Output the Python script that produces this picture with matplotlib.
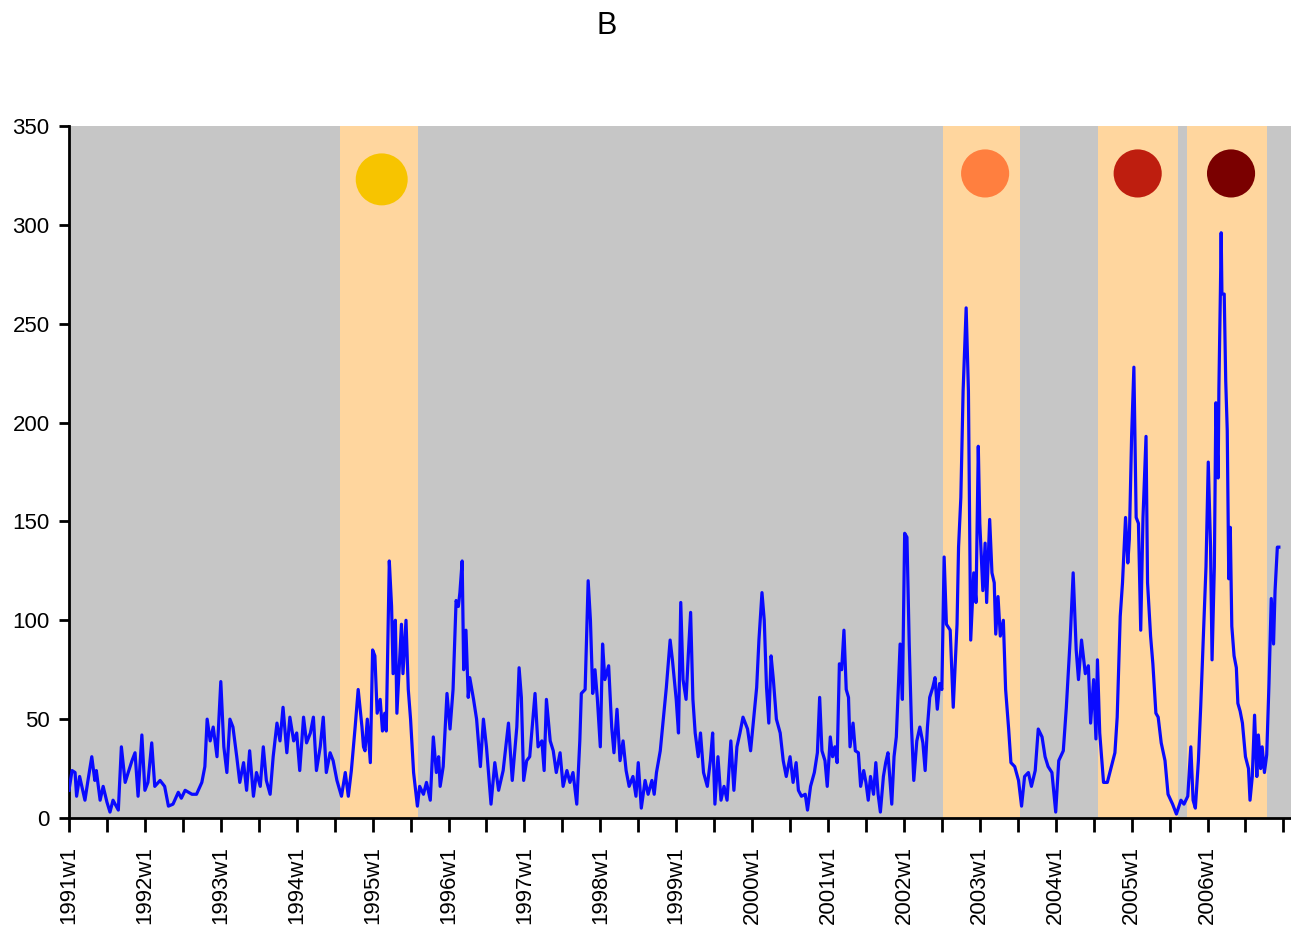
import matplotlib
matplotlib.use("Agg")
import matplotlib.pyplot as plt

plt.rcParams["font.family"] = ["Liberation Sans", "DejaVu Sans"]

# weekly counts as (decimal year, count)
t = [
    1991.00, 1991.04, 1991.08, 1991.10, 1991.14, 1991.21, 1991.25, 1991.30, 1991.34, 1991.36,
    1991.41, 1991.45, 1991.50, 1991.54, 1991.58, 1991.65, 1991.69, 1991.74, 1991.78, 1991.83,
    1991.87, 1991.91, 1991.96, 1992.00, 1992.04, 1992.09, 1992.13, 1992.20, 1992.26, 1992.31,
    1992.37, 1992.44, 1992.48, 1992.53, 1992.62, 1992.68, 1992.75, 1992.79, 1992.82, 1992.86,
    1992.90, 1992.95, 1993.00, 1993.04, 1993.08,
    1993.12, 1993.16, 1993.21, 1993.25, 1993.30, 1993.34, 1993.38, 1993.43, 1993.47, 1993.52,
    1993.56, 1993.60, 1993.65, 1993.69, 1993.74, 1993.78, 1993.82, 1993.87, 1993.91, 1993.96,
    1994.00, 1994.04, 1994.09, 1994.13, 1994.18, 1994.22, 1994.26, 1994.31, 1994.35, 1994.39,
    1994.44, 1994.48, 1994.53, 1994.59, 1994.64, 1994.68, 1994.72, 1994.77, 1994.81, 1994.86,
    1994.88, 1994.90, 1994.93, 1994.97, 1995.00, 1995.03, 1995.06, 1995.10, 1995.13, 1995.16,
    1995.18, 1995.22, 1995.25, 1995.27, 1995.30, 1995.32, 1995.35, 1995.38, 1995.40, 1995.44,
    1995.47, 1995.50, 1995.54, 1995.59,
    1995.62, 1995.67, 1995.71, 1995.76, 1995.80, 1995.84, 1995.87, 1995.89, 1995.93, 1995.98,
    1996.02, 1996.06, 1996.10, 1996.13, 1996.15, 1996.18, 1996.20, 1996.23, 1996.26, 1996.28,
    1996.33, 1996.37, 1996.42, 1996.46, 1996.50, 1996.56, 1996.61, 1996.66, 1996.72, 1996.79,
    1996.84, 1996.90, 1996.93, 1996.96, 1996.99, 1997.03, 1997.07, 1997.14, 1997.18, 1997.23,
    1997.26, 1997.29, 1997.34, 1997.38, 1997.42, 1997.47, 1997.51, 1997.56, 1997.60, 1997.64,
    1997.69, 1997.73, 1997.75, 1997.80, 1997.84, 1997.87, 1997.90, 1997.93, 1997.96, 1998.00,
    1998.03, 1998.06, 1998.11,
    1998.15, 1998.18, 1998.22, 1998.26, 1998.30, 1998.34, 1998.38, 1998.43, 1998.47, 1998.50,
    1998.54, 1998.59, 1998.63, 1998.68, 1998.71, 1998.74, 1998.79, 1998.83, 1998.87, 1998.92,
    1998.95, 1999.00, 1999.03, 1999.06, 1999.09, 1999.13, 1999.16, 1999.19, 1999.22, 1999.25,
    1999.29, 1999.32, 1999.36, 1999.41, 1999.45, 1999.48, 1999.51, 1999.55, 1999.59, 1999.63,
    1999.67, 1999.72, 1999.76, 1999.80, 1999.84, 1999.88, 1999.94, 1999.98, 2000.02, 2000.06,
    2000.09, 2000.13, 2000.16, 2000.19, 2000.22, 2000.25, 2000.28, 2000.32, 2000.37, 2000.41,
    2000.45,
    2000.50, 2000.54, 2000.58, 2000.61, 2000.65, 2000.70, 2000.73, 2000.77, 2000.82, 2000.86,
    2000.89, 2000.92, 2000.96, 2000.99, 2001.03, 2001.06, 2001.09, 2001.12, 2001.15, 2001.18,
    2001.21, 2001.24, 2001.27, 2001.29, 2001.33, 2001.36, 2001.40, 2001.43, 2001.47, 2001.50,
    2001.53, 2001.56, 2001.60, 2001.63, 2001.66, 2001.69, 2001.73, 2001.76, 2001.79, 2001.84,
    2001.87, 2001.90, 2001.95, 2001.98, 2002.01, 2002.04, 2002.07, 2002.10, 2002.13, 2002.17,
    2002.21, 2002.25, 2002.28, 2002.31, 2002.34, 2002.38, 2002.41, 2002.44, 2002.47, 2002.50,
    2002.53, 2002.56, 2002.61, 2002.65, 2002.70, 2002.72, 2002.75, 2002.78, 2002.82, 2002.85,
    2002.88, 2002.92, 2002.95, 2002.98, 2003.00, 2003.04, 2003.07, 2003.09, 2003.13, 2003.16,
    2003.19, 2003.21, 2003.24, 2003.27, 2003.31, 2003.34, 2003.38, 2003.41, 2003.46, 2003.51,
    2003.55, 2003.59, 2003.64, 2003.68, 2003.73, 2003.77, 2003.82, 2003.86, 2003.90, 2003.95,
    2004.00, 2004.04, 2004.10, 2004.14, 2004.19, 2004.23, 2004.27, 2004.30, 2004.34, 2004.39,
    2004.43, 2004.46, 2004.50,
    2004.53, 2004.55, 2004.58, 2004.63, 2004.68, 2004.72, 2004.78, 2004.81, 2004.85, 2004.88,
    2004.92, 2004.95, 2004.97, 2005.00, 2005.03, 2005.06, 2005.09, 2005.12, 2005.15, 2005.19,
    2005.21, 2005.25, 2005.28, 2005.32, 2005.35, 2005.39, 2005.44, 2005.48, 2005.54, 2005.59,
    2005.65, 2005.69, 2005.74, 2005.78, 2005.81, 2005.84, 2005.88, 2005.91, 2005.95, 2005.98,
    2006.01, 2006.04, 2006.06, 2006.09, 2006.11, 2006.14, 2006.15, 2006.17, 2006.18, 2006.19,
    2006.22, 2006.24, 2006.26, 2006.28, 2006.30, 2006.32, 2006.35, 2006.38, 2006.40, 2006.43,
    2006.46, 2006.50, 2006.54, 2006.56, 2006.59, 2006.62, 2006.65, 2006.67, 2006.70, 2006.72,
    2006.75, 2006.78, 2006.81, 2006.84, 2006.87, 2006.89, 2006.92, 2006.94,
]
cases = [
    14, 24, 23, 11, 21, 9, 19, 31, 19, 24,
    9, 16, 8, 3, 9, 4, 36, 18, 23, 29,
    33, 11, 42, 14, 18, 38, 16, 19, 16, 6,
    7, 13, 10, 14, 12, 12, 18, 26, 50, 39,
    46, 31, 69, 36, 23,
    50, 46, 31, 18, 28, 14, 34, 11, 23, 16,
    36, 19, 12, 31, 48, 39, 56, 33, 51, 39,
    43, 24, 51, 38, 43, 51, 24, 36, 51, 23,
    33, 29, 19, 11, 23, 11, 24, 46, 65, 46,
    36, 34, 50, 28, 85, 82, 53, 60, 44, 53,
    44, 130, 107, 73, 100, 53, 75, 98, 73, 100,
    65, 50, 23, 6,
    16, 12, 18, 9, 41, 23, 31, 16, 26, 63,
    45, 65, 110, 107, 114, 130, 75, 95, 61, 71,
    60, 50, 26, 50, 36, 7, 28, 14, 24, 48,
    19, 46, 76, 61, 19, 29, 31, 63, 36, 39,
    24, 60, 39, 34, 23, 33, 16, 24, 18, 23,
    7, 39, 63, 65, 120, 100, 63, 75, 61, 36,
    88, 70, 77,
    46, 33, 55, 29, 39, 24, 16, 21, 11, 28,
    5, 19, 12, 19, 12, 23, 34, 50, 66, 90,
    80, 60, 43, 109, 70, 60, 83, 104, 60, 43,
    31, 43, 23, 16, 29, 43, 7, 31, 9, 16,
    9, 39, 14, 36, 43, 51, 45, 34, 50, 66,
    90, 114, 100, 66, 48, 82, 70, 50, 43, 29,
    21,
    31, 18, 28, 14, 11, 12, 4, 16, 23, 33,
    61, 34, 29, 16, 41, 31, 36, 28, 78, 75,
    95, 65, 61, 36, 48, 34, 33, 16, 24, 18,
    9, 21, 12, 28, 12, 3, 21, 28, 33, 7,
    31, 41, 88, 60, 144, 142, 88, 46, 19, 39,
    46, 38, 24, 46, 61, 66, 71, 55, 68, 65,
    132, 98, 95, 56, 98, 137, 162, 216, 258, 216,
    90, 124, 109, 188, 149, 115, 139, 109, 151, 124,
    119, 93, 112, 92, 100, 65, 45, 28, 26, 19,
    6, 21, 23, 16, 24, 45, 41, 31, 26, 23,
    3, 29, 34, 56, 90, 124, 85, 70, 90, 73,
    77, 48, 70,
    40, 80, 43, 18, 18, 24, 33, 51, 102, 119,
    152, 129, 141, 193, 228, 152, 149, 95, 152, 193,
    119, 92, 78, 53, 51, 38, 29, 12, 7, 2,
    9, 7, 11, 36, 9, 5, 29, 56, 97, 127,
    180, 137, 80, 127, 210, 172, 217, 267, 296, 265,
    265, 221, 196, 121, 147, 97, 82, 76, 58, 54,
    48, 31, 25, 9, 21, 52, 21, 42, 25, 36,
    23, 32, 68, 111, 88, 115, 137, 137,
]

# epidemic seasons shaded in orange, each with a coloured dot
season_start = [1994.57, 2002.51, 2004.56, 2005.73]
season_end = [1995.60, 2003.53, 2005.61, 2006.78]
dot_x = [1995.12, 2003.07, 2005.08, 2006.31]
dot_y = [323, 326, 326, 326]
dot_size = [1400, 1200, 1200, 1200]
dot_colors = ["#f7c400", "#ff7f3f", "#be1e0f", "#7a0000"]

half_years = [1991 + 0.5 * k for k in range(33)]
tick_labels = [f"{int(x)}w1" if x < 2007 and x == int(x) else "" for x in half_years]

fig = plt.figure(figsize=(12.91, 9.25), dpi=100)
ax = fig.add_axes([69 / 1291, 107 / 925, 1222 / 1291, 692 / 925])
ax.set_facecolor("#c6c6c6")

for s, e in zip(season_start, season_end):
    ax.axvspan(s, e, color="#ffd69e", lw=0, zorder=1)

ax.plot(t, cases, color="#0a0aff", lw=2.3, zorder=3)
ax.scatter(dot_x, dot_y, s=dot_size, c=dot_colors, linewidths=0, zorder=4)

ax.set_xlim(1991, 2007.1)
ax.set_ylim(0, 350)
ax.set_yticks(range(0, 351, 50))
ax.set_xticks(half_years)
ax.set_xticklabels(tick_labels, rotation=90)

ax.tick_params(axis="x", length=10, width=2, pad=10, labelsize=16)
ax.tick_params(axis="y", length=7, width=2, pad=7, labelsize=16)
for side in ("top", "right"):
    ax.spines[side].set_visible(False)
for side in ("left", "bottom"):
    ax.spines[side].set_linewidth(2)

fig.text(607 / 1291, 1 - 26 / 925, "B", ha="center", va="center", fontsize=22)

fig.savefig("out.png", dpi=100)
